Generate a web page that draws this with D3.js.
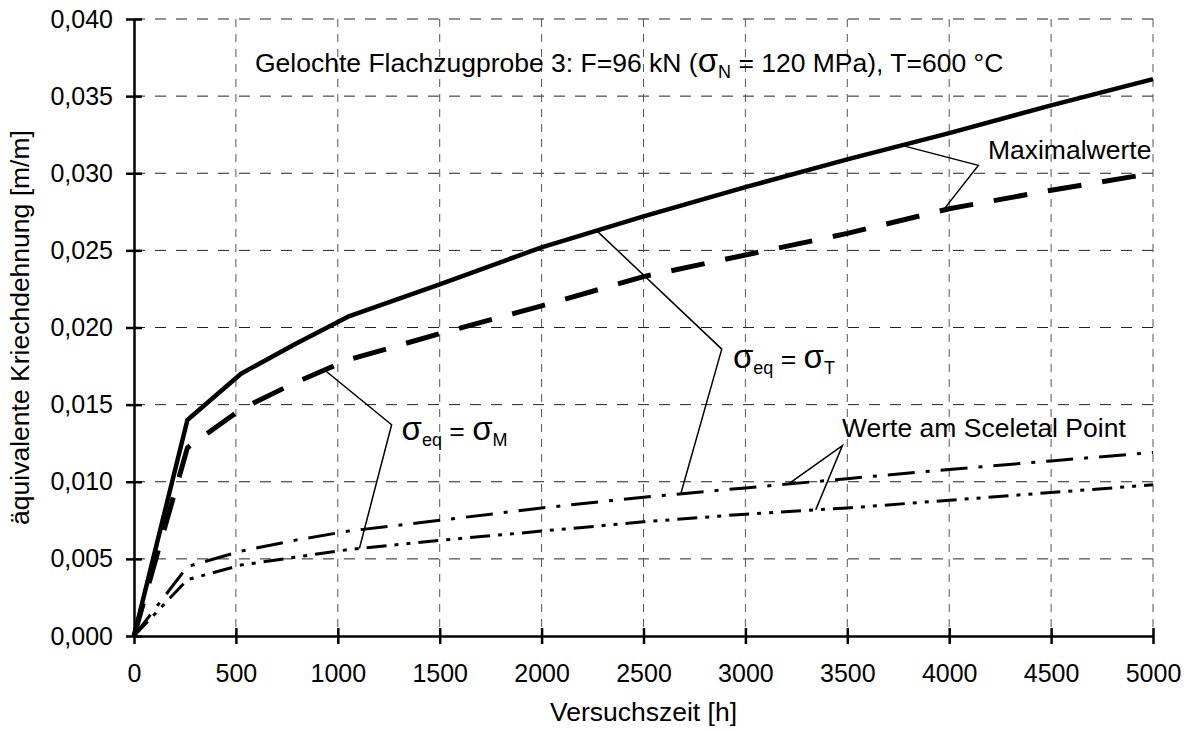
<!DOCTYPE html>
<html>
<head>
<meta charset="utf-8">
<script src="https://cdn.jsdelivr.net/npm/d3@7"></script>
<style>
  body { margin: 0; background: #fff; }
  text { font-family: "Liberation Sans", Arial, sans-serif; fill: #000; }
</style>
</head>
<body>
<svg width="1190" height="731"></svg>
<script>
// Versuchszeit [h]
var hours = [0, 262, 525, 787, 1050, 1500, 2000, 2500, 3000, 3500, 4000, 4500, 5000];

// equivalent creep strain [m/m]
var maxT = [0, 0.0140, 0.0170, 0.0189, 0.0207, 0.0228, 0.0252, 0.0272, 0.0291, 0.0309, 0.0326, 0.0344, 0.0361]; // Maximalwerte, sigma_eq = sigma_T
var maxM = [0, 0.0122, 0.0147, 0.0164, 0.0179, 0.0196, 0.0214, 0.0233, 0.0247, 0.0261, 0.0277, 0.0289, 0.0300]; // Maximalwerte, sigma_eq = sigma_M
var sceT = [0, 0.0045, 0.0055, 0.0062, 0.0068, 0.0075, 0.0083, 0.0090, 0.0096, 0.0102, 0.0108, 0.01135, 0.0119]; // Sceletal Point, sigma_T
var sceM = [0, 0.00365, 0.0046, 0.0051, 0.0056, 0.0062, 0.0068, 0.0074, 0.0079, 0.0083, 0.0088, 0.0093, 0.0098]; // Sceletal Point, sigma_M

var xTicks = [0, 500, 1000, 1500, 2000, 2500, 3000, 3500, 4000, 4500, 5000];
var yTicks = [0, 0.005, 0.010, 0.015, 0.020, 0.025, 0.030, 0.035, 0.040];

var series = [
  {key: "maxT", values: maxT, width: 4.5, dash: null},
  {key: "maxM", values: maxM, width: 5, dash: "34,21"},
  {key: "sceT", values: sceT, width: 3, dash: "27,11,4,11"},
  {key: "sceM", values: sceM, width: 3, dash: "20,8,4,8,4,8"}
];

// label anchors (h, strain) and the points on the curves their leaders go to
var notes = [
  {parts: [{t: "Maximalwerte"}], at: [4190, 0.03094], vertex: [4143, 0.03051], targets: [["maxT", 3767], ["maxM", 3971]]},
  {parts: [{t: "σ", big: 1}, {t: "eq", sub: 1}, {t: " = "}, {t: "σ", big: 1}, {t: "M", sub: 1}], at: [1313, 0.01273], vertex: [1264, 0.0137], targets: [["maxM", 935], ["sceM", 1106]]},
  {parts: [{t: "σ", big: 1}, {t: "eq", sub: 1}, {t: " = "}, {t: "σ", big: 1}, {t: "T", sub: 1}], at: [2939, 0.0174], vertex: [2884, 0.0186], targets: [["maxT", 2270], ["sceT", 2683]]},
  {parts: [{t: "Werte am Sceletal Point"}], at: [3474, 0.01292], vertex: [3476, 0.01234], targets: [["sceT", 3210], ["sceM", 3345]]}
];

var title = [{t: "Gelochte Flachzugprobe 3: F=96 kN ("}, {t: "σ", big: 1}, {t: "N", sub: 1}, {t: " = 120 MPa), T=600 °C"}];

var svg = d3.select("svg"),
    marginLeft = 134, marginTop = 19,
    width = 1019, height = 617,
    fs = 26.5;

var x = d3.scaleLinear().domain([0, 5000]).range([0, width]);
var y = d3.scaleLinear().domain([0, 0.04]).range([height, 0]);

var g = svg.append("g").attr("transform", "translate(" + marginLeft + "," + marginTop + ")");

// grid
g.append("g").selectAll("line")
  .data(yTicks.filter(function(d) { return d > 0; }))
  .enter().append("line")
  .attr("x1", 0).attr("x2", width)
  .attr("y1", function(d) { return y(d); }).attr("y2", function(d) { return y(d); })
  .attr("stroke", "#222").attr("stroke-width", 1).attr("stroke-dasharray", "11,10");

g.append("g").selectAll("line")
  .data(xTicks.filter(function(d) { return d > 0; }))
  .enter().append("line")
  .attr("x1", function(d) { return x(d); }).attr("x2", function(d) { return x(d); })
  .attr("y1", 0).attr("y2", height)
  .attr("stroke", "#555").attr("stroke-width", 1).attr("stroke-dasharray", "8,7");

// axes
var fmt = function(d) { return d3.format(".3f")(d).replace(".", ","); };

var yAxis = g.append("g")
  .call(d3.axisLeft(y).tickValues(yTicks).tickFormat(fmt).tickSize(8).tickSizeOuter(0).tickPadding(13));
var xAxis = g.append("g")
  .attr("transform", "translate(0," + height + ")")
  .call(d3.axisBottom(x).tickValues(xTicks).tickFormat(d3.format("d")).tickSize(8).tickSizeOuter(0).tickPadding(20));

[yAxis, xAxis].forEach(function(a) {
  a.attr("font-size", null).attr("font-family", null);
  a.select(".domain").attr("stroke", "#000").attr("stroke-width", 2.5);
  a.selectAll(".tick line").attr("stroke", "#000").attr("stroke-width", 2.5);
  a.selectAll(".tick text").style("font-size", "25px");
});
yAxis.selectAll(".tick line").attr("x1", 8);
xAxis.selectAll(".tick line").attr("y1", -8);

// curves
var line = d3.line()
  .x(function(d) { return x(d[0]); })
  .y(function(d) { return y(d[1]); });

var byKey = {};
series.forEach(function(s) {
  var pts = hours.map(function(h, i) { return [h, s.values[i]]; });
  byKey[s.key] = pts;
  g.append("path")
    .attr("d", line(pts))
    .attr("fill", "none")
    .attr("stroke", "#000")
    .attr("stroke-width", s.width)
    .attr("stroke-linejoin", "round")
    .attr("stroke-dasharray", s.dash);
});

function valueAt(key, h) {
  var pts = byKey[key];
  for (var i = 1; i < pts.length; i++) {
    if (h <= pts[i][0]) {
      var t = (h - pts[i - 1][0]) / (pts[i][0] - pts[i - 1][0]);
      return pts[i - 1][1] + t * (pts[i][1] - pts[i - 1][1]);
    }
  }
  return pts[pts.length - 1][1];
}

// text with sigma glyphs and subscripts
function richText(sel, px, py, parts) {
  var t = sel.append("text").attr("x", px).attr("y", py).style("font-size", fs + "px");
  var shift = 0;
  parts.forEach(function(p) {
    var ts = t.append("tspan").text(p.t);
    var want = p.sub ? 6 : 0;
    if (want !== shift) { ts.attr("dy", want - shift); shift = want; }
    if (p.sub) ts.style("font-size", "18px");
    if (p.big) ts.style("font-size", "33px");
  });
  return t;
}

// leaders + labels
notes.forEach(function(n) {
  var v = [x(n.vertex[0]), y(n.vertex[1])];
  var a = n.targets[0], b = n.targets[1];
  var pa = [x(a[1]), y(valueAt(a[0], a[1]))];
  var pb = [x(b[1]), y(valueAt(b[0], b[1]))];
  g.append("path")
    .attr("d", d3.line()([pa, v, pb]))
    .attr("fill", "none").attr("stroke", "#000").attr("stroke-width", 1.5);
  richText(g, x(n.at[0]), y(n.at[1]), n.parts);
});

richText(g, 121, 53, title);

// axis titles
svg.append("text")
  .attr("x", marginLeft + width / 2).attr("y", 721)
  .attr("text-anchor", "middle")
  .style("font-size", fs + "px")
  .text("Versuchszeit [h]");

svg.append("text")
  .attr("transform", "translate(29," + (marginTop + height / 2) + ") rotate(-90)")
  .attr("text-anchor", "middle")
  .style("font-size", fs + "px")
  .text("äquivalente Kriechdehnung [m/m]");
</script>
</body>
</html>
